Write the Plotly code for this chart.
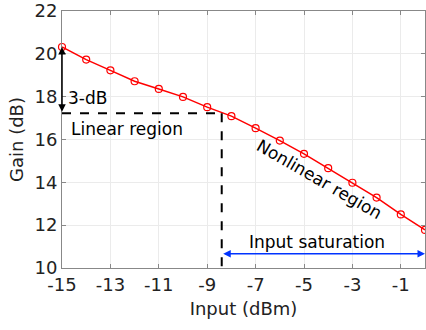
import plotly.graph_objects as go

input_dbm = [-15, -14, -13, -12, -11, -10, -9, -8, -7, -6, -5, -4, -3, -2, -1, 0]
gain_db = [20.32, 19.73, 19.23, 18.72, 18.36, 17.99, 17.51, 17.09, 16.53, 15.95,
           15.33, 14.66, 13.98, 13.29, 12.5, 11.78]
x_ticks = [-15, -13, -11, -9, -7, -5, -3, -1]
y_ticks = [10, 12, 14, 16, 18, 20, 22]
gain_3db = 17.22
sat_input = -8.4
sat_arrow_y = 10.66

FONT = "DejaVu Sans, Liberation Sans, Arial, sans-serif"

fig = go.Figure()
fig.add_trace(go.Scatter(
    x=input_dbm, y=gain_db, mode="lines+markers",
    line=dict(color="#ff0000", width=1.5),
    marker=dict(symbol="circle-open", size=7, color="#ff0000", line=dict(width=1.2)),
    showlegend=False, cliponaxis=False,
))
fig.add_trace(go.Scatter(x=[-15, sat_input], y=[gain_3db, gain_3db], mode="lines",
                         line=dict(color="black", width=2, dash="dash"), showlegend=False))
fig.add_trace(go.Scatter(x=[sat_input, sat_input], y=[gain_3db, 10], mode="lines",
                         line=dict(color="black", width=2, dash="dash"), showlegend=False))

anns = []
anns.append(dict(x=-15, y=gain_db[0], ax=-15, ay=gain_3db, xref="x", yref="y",
                 axref="x", ayref="y", showarrow=True, arrowhead=2, startarrowhead=2,
                 arrowside="end+start", arrowsize=1, startarrowsize=1, arrowwidth=1.5,
                 arrowcolor="black", text=""))
anns.append(dict(x=0, y=sat_arrow_y, ax=sat_input, ay=sat_arrow_y, xref="x", yref="y",
                 axref="x", ayref="y", showarrow=True, arrowhead=2, startarrowhead=2,
                 arrowside="end+start", arrowsize=1, startarrowsize=1, arrowwidth=1.5,
                 arrowcolor="#0033ff", text=""))
tf = dict(family=FONT, size=17, color="black")
anns.append(dict(x=-14.82, y=17.93, text="3-dB", showarrow=False, xanchor="left", font=tf))
anns.append(dict(x=-14.7, y=16.49, text="Linear region", showarrow=False, xanchor="left", font=tf))
anns.append(dict(x=-4.38, y=14.16, text="Nonlinear region", showarrow=False, textangle=30, font=tf))
anns.append(dict(x=-4.46, y=11.23, text="Input saturation", showarrow=False, font=tf))

axis_common = dict(
    showline=True, linecolor="#888888", linewidth=1, mirror="ticks",
    showgrid=True, gridcolor="#ebebeb", gridwidth=1,
    ticks="inside", ticklen=4, tickcolor="#888888",
    tickfont=dict(family=FONT, size=18, color="#222222"),
    zeroline=False, automargin=False,
)
fig.update_layout(
    width=426, height=330,
    margin=dict(l=62, r=1, t=11, b=62),
    plot_bgcolor="white", paper_bgcolor="white",
    xaxis=dict(range=[-15, 0], tickvals=x_ticks, ticktext=[str(v) for v in x_ticks],
               title=dict(text="Input (dBm)", font=dict(family=FONT, size=18, color="#222222"), standoff=8),
               **axis_common),
    yaxis=dict(range=[10, 22], tickvals=y_ticks,
               title=dict(text="Gain (dB)", font=dict(family=FONT, size=18, color="#222222"), standoff=6),
               **axis_common),
    annotations=anns,
)
fig.write_html("out.html", config={"displayModeBar": False},
               post_script="document.body.style.margin='0';document.body.style.overflow='hidden';")
